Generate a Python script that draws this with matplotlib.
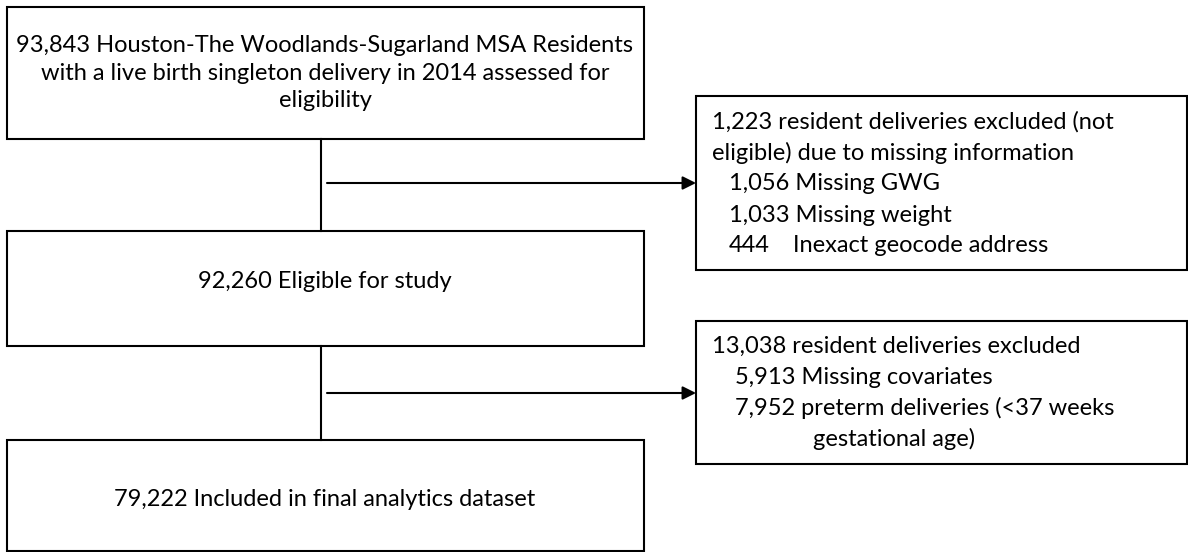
import matplotlib
matplotlib.use('Agg')
import matplotlib.pyplot as plt
from matplotlib.patches import Rectangle

plt.rcParams['font.family'] = ['Lato', 'DejaVu Sans']

# flow boxes (main column)
main_texts = [
    '93,843 Houston-The Woodlands-Sugarland MSA Residents\nwith a live birth singleton delivery in 2014 assessed for\neligibility',
    '92,260 Eligible for study',
    '79,222 Included in final analytics dataset',
]
# exclusion boxes, one entry per line
excl1_lines = [
    '1,223 resident deliveries excluded (not',
    'eligible) due to missing information',
    '1,056 Missing GWG',
    '1,033 Missing weight',
    '444',
]
excl1_extra = 'Inexact geocode address'
excl2_lines = [
    '13,038 resident deliveries excluded',
    '5,913 Missing covariates',
    '7,952 preterm deliveries (<37 weeks',
    'gestational age)',
]

fig = plt.figure(figsize=(11.88, 5.52), dpi=100)
ax = fig.add_axes([0, 0, 1, 1])
ax.set_xlim(0, 1188)
ax.set_ylim(552, 0)
ax.axis('off')

lw = 1.5
fs = 17.0

def box(x0, y0, x1, y1):
    ax.add_patch(Rectangle((x0, y0), x1 - x0, y1 - y0, fill=False,
                           edgecolor='black', linewidth=lw))

# main column
box(7, 7, 644, 139)
box(7, 231, 644, 346)
box(7, 440, 644, 551)
ax.text(325, 73, main_texts[0], ha='center', va='center', fontsize=fs,
        linespacing=1.38)
ax.text(325, 281, main_texts[1], ha='center', va='center', fontsize=fs)
ax.text(325, 499, main_texts[2], ha='center', va='center', fontsize=fs)

# connectors
ax.plot([321, 321], [139, 231], color='black', lw=lw)
ax.plot([321, 321], [346, 440], color='black', lw=lw)
for y in [183, 393]:
    ax.annotate('', xy=(696, y), xytext=(327, y),
                arrowprops=dict(arrowstyle='-|>', color='black', lw=lw,
                                mutation_scale=20, shrinkA=0, shrinkB=0))

# exclusion boxes
box(696, 96, 1187, 270)
box(696, 321, 1187, 464)

x1_pos = [712, 712, 729, 729, 729]
for i, t in enumerate(excl1_lines):
    ax.text(x1_pos[i], 122 + i * 31, t, ha='left', va='center', fontsize=fs)
ax.text(793, 122 + 4 * 31, excl1_extra, ha='left', va='center', fontsize=fs)

x2_pos = [712, 735, 735, 813]
for i, t in enumerate(excl2_lines):
    ax.text(x2_pos[i], 346 + i * 31, t, ha='left', va='center', fontsize=fs)

fig.savefig('out.png', dpi=100)
